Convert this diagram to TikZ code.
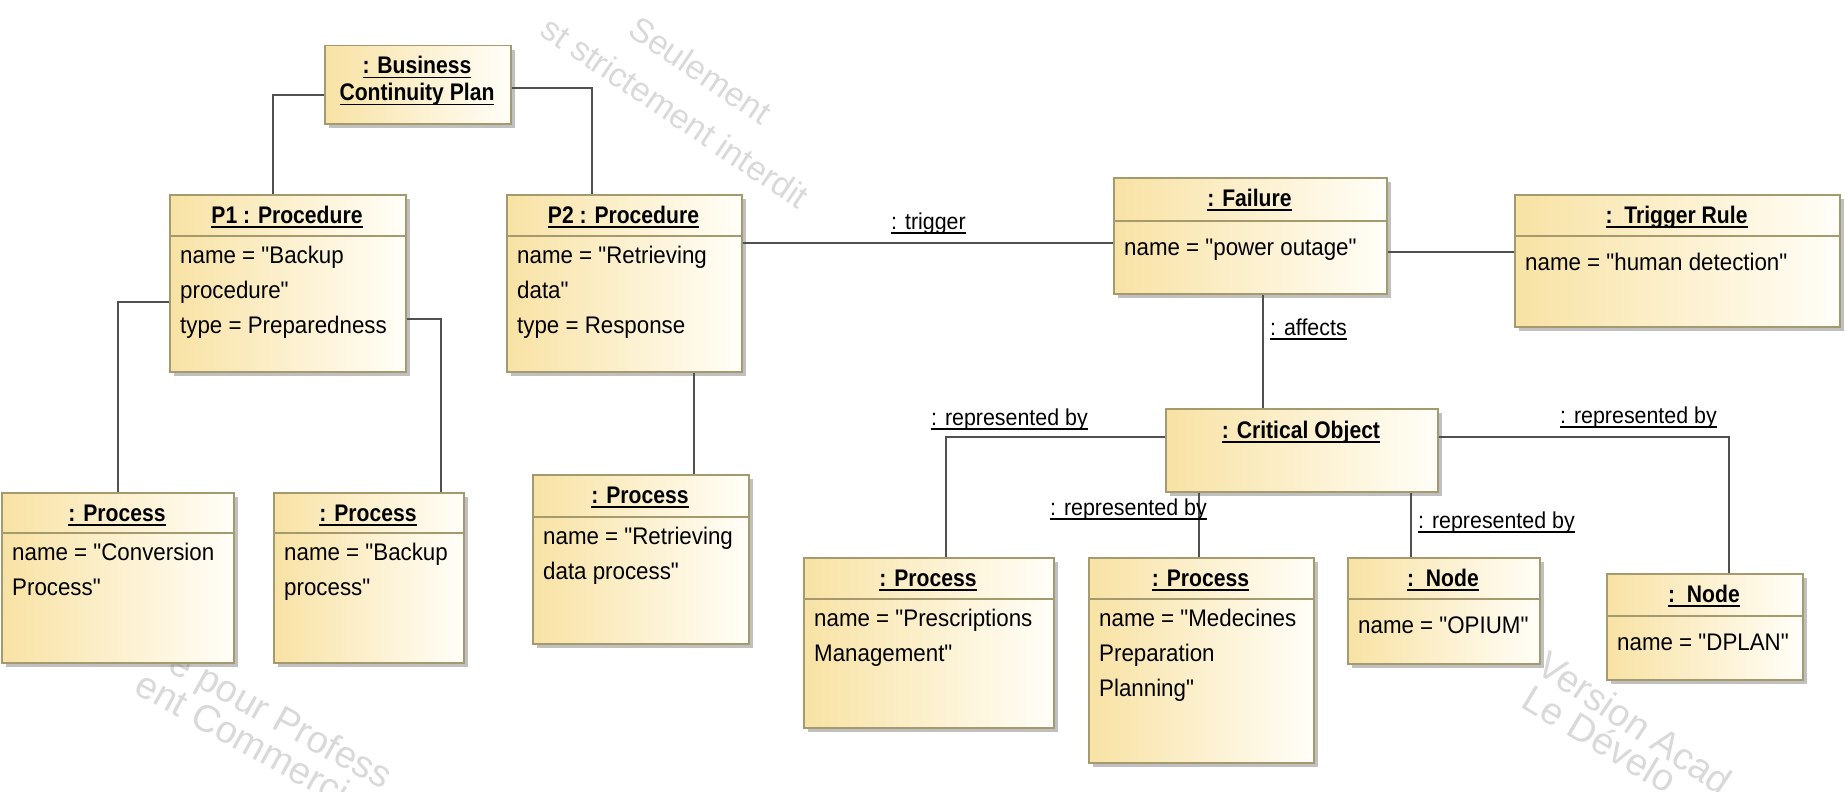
\documentclass[tikz,border=0pt]{standalone}
\usepackage{fontspec}
\setmainfont{Liberation Sans}[FakeStretch=0.93]
% families without TeX ligatures, so that " stays a straight quote
\newfontfamily\attrfont{Liberation Sans}[FakeStretch=0.93]
\newfontfamily\titlefont{Liberation Sans}[FakeStretch=0.88]
\newfontfamily\wmfont{Liberation Sans}
\usetikzlibrary{shadows}

\definecolor{objyellow}{HTML}{F8E2A4}
\definecolor{objlight}{HTML}{FFFEF8}
\definecolor{objborder}{HTML}{A49A6E}
\definecolor{linkgray}{HTML}{505050}
\definecolor{wmgray}{HTML}{D9D9D9}

% underlined text with the rule at a fixed depth below the baseline
\newsavebox\ulbox
\newcommand\utext[1]{\sbox\ulbox{#1}\rlap{\rule[-4.5pt]{\wd\ulbox}{1.5pt}}\usebox\ulbox}

\tikzset{
  objbox/.style={draw=objborder, line width=1.5pt, left color=objyellow, right color=objlight,
    drop shadow={shadow xshift=4pt, shadow yshift=-4pt, fill=black!55, opacity=0.45}, inner sep=0pt},
  objsep/.style={draw=objborder, line width=1.5pt},
  objtitle/.style={font=\titlefont\bfseries\fontsize{24}{27}\selectfont, inner sep=0pt},
  objattr/.style={font=\attrfont\fontsize{24}{35}\selectfont, align=left, inner sep=0pt, execute at begin node=\strut},
  link/.style={draw=linkgray, line width=2pt},
  linklabel/.style={font=\attrfont\fontsize{23}{27}\selectfont, inner sep=0pt},
  wm/.style={font=\wmfont\fontsize{#1}{#1}\selectfont, text=wmgray, inner sep=0pt, anchor=north west},
}

% object box: name, left, top, right, bottom, separator y, title, attributes
\newcommand\objnode[8]{%
  \node[objbox, anchor=north west, minimum width={(#4-#2)*1pt}, minimum height={(#5-#3)*1pt}] (#1) at (#2,#3) {};
  \draw[objsep] (#2,#6) -- (#4,#6);
  \node[objtitle, anchor=base] (#1-title) at ({(#2+#4)/2},{#3+29}) {\utext{#7}};
  \node[objattr, anchor=north west] (#1-attr) at ({#2+11},{#6+9.5}) {#8};
}

\begin{document}
\begin{tikzpicture}[x=1pt, y=-1pt]
\useasboundingbox (0,0) rectangle (1845,792);

% faint evaluation watermark behind the diagram
\begin{scope}
  \clip (0,0) rectangle (1845,792);
  \node[wm=34, rotate=-34] (wm1) at (640,14) {Seulement};
  \node[wm=34, rotate=-34] (wm2) at (552,14) {st strictement interdit};
  \node[wm=38, rotate=-29] (wm3) at (180,646) {e pour Profess};
  \node[wm=38, rotate=-29] (wm4) at (146,668) {ent Commerci};
  \node[wm=38, rotate=-34] (wm5) at (1550,648) {Version Acad};
  \node[wm=38, rotate=-31] (wm6) at (1534,682) {Le D\'evelo};
\end{scope}

% business continuity plan
\node[objbox, anchor=north west, minimum width=186pt, minimum height=78pt] (bcp) at (324,45) {};
\node[objtitle, anchor=north, align=center, execute at begin node=\strut] (bcp-title) at (417,56)
  {\utext{: Business}\\\strut\utext{Continuity Plan}};

% procedures and their processes
\objnode{p1}{169}{194}{405}{371}{236}{P1 : Procedure}{name = "Backup\\procedure"\\type = Preparedness}
\objnode{p2}{506}{194}{741}{371}{236}{P2 : Procedure}{name = "Retrieving\\data"\\type = Response}
\objnode{conv}{1}{492}{233}{662}{533}{: Process}{name = "Conversion\\Process"}
\objnode{bkp}{273}{492}{463}{662}{533}{: Process}{name = "Backup\\process"}
\objnode{retr}{532}{474}{748}{643}{517}{: Process}{name = "Retrieving\\data process"}

% failure side
\objnode{fail}{1113}{177}{1386}{293}{221}{: Failure}{name = "power outage"}
\objnode{trig}{1514}{194}{1839}{326}{236}{:\ \ Trigger Rule}{name = "human detection"}

\node[objbox, anchor=north west, minimum width=272pt, minimum height=83pt] (crit) at (1165,408) {};
\node[objtitle, anchor=base] (crit-title) at (1301,438) {\utext{: Critical Object}};

\objnode{presc}{803}{557}{1053}{727}{599}{: Process}{name = "Prescriptions\\Management"}
\objnode{med}{1088}{557}{1313}{762}{599}{: Process}{name = "Medecines\\Preparation\\Planning"}
\objnode{opium}{1347}{557}{1539}{663}{599}{:\ \ Node}{name = "OPIUM"}
\objnode{dplan}{1606}{573}{1802}{679}{616}{:\ \ Node}{name = "DPLAN"}

% links
\draw[link] (bcp.west |- 0,95) -| (273,0 |- p1.north);
\draw[link] (bcp.east |- 0,88) -| (592,0 |- p2.north);
\draw[link] (p1.west |- 0,302) -| (118,0 |- conv.north);
\draw[link] (p1.east |- 0,319) -| (441,0 |- bkp.north);
\draw[link] (694,0 |- p2.south) -- (694,0 |- retr.north);
\draw[link] (p2.east |- 0,243) -- (fail.west |- 0,243);
\draw[link] (fail.east |- 0,252) -- (trig.west |- 0,252);
\draw[link] (1263,0 |- fail.south) -- (1263,0 |- crit.north);
\draw[link] (crit.west |- 0,437) -| (946,0 |- presc.north);
\draw[link] (1199,0 |- crit.south) -- (1199,0 |- med.north);
\draw[link] (1411,0 |- crit.south) -- (1411,0 |- opium.north);
\draw[link] (crit.east |- 0,437) -| (1729,0 |- dplan.north);

% link labels
\node[linklabel, anchor=base west] (lbl-trigger) at (891,229) {\utext{: trigger}};
\node[linklabel, anchor=base west] (lbl-affects) at (1270,335) {\utext{: affects}};
\node[linklabel, anchor=base west] (lbl-rep1) at (931,425) {\utext{: represented by}};
\node[linklabel, anchor=base west] (lbl-rep2) at (1050,515) {\utext{: represented by}};
\node[linklabel, anchor=base west] (lbl-rep3) at (1418,528) {\utext{: represented by}};
\node[linklabel, anchor=base west] (lbl-rep4) at (1560,423) {\utext{: represented by}};
\end{tikzpicture}
\end{document}
